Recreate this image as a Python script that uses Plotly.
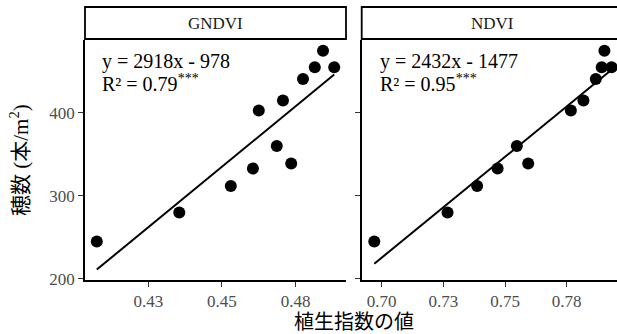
import plotly.graph_objects as go

# ---- data ----
panels = ["GNDVI", "NDVI"]
y_counts = [245, 280, 312, 333, 360, 339, 403, 415, 441, 455, 475, 455]
x_gndvi = [0.4075, 0.4355, 0.4530, 0.4605, 0.4686, 0.4735, 0.4625, 0.4707, 0.4775, 0.4815, 0.4843, 0.4881]
x_ndvi = [0.6970, 0.7267, 0.7387, 0.7470, 0.7548, 0.7594, 0.7767, 0.7818, 0.7868, 0.7892, 0.7903, 0.7932]
slopes = [2918, 2432]
intercepts = [-978, -1477]
eq_labels = ["y = 2918x - 978", "y = 2432x - 1477"]
r2_labels = ["R² = 0.79<sup>***</sup>", "R² = 0.95<sup>***</sup>"]
xtick_vals_g = [0.425, 0.45, 0.475]
xtick_text_g = ["0.43", "0.45", "0.48"]
xtick_vals_n = [0.70, 0.725, 0.75, 0.775]
xtick_text_n = ["0.70", "0.73", "0.75", "0.78"]
ytick_vals = [200, 300, 400]
x_title = "植生指数の値"
y_title = "穂数 (本/m<sup>2</sup>)"

W, H = 617, 334
L, R, T, B = 85, 0, 40, 54
PW = W - L - R
PH = H - T - B

def px(xp):
    return (xp - L) / PW

def py(yp):
    return (H - B - yp) / PH

SERIF = "Liberation Serif, 'Noto Sans CJK JP', serif"

fig = go.Figure()
xs_all = [x_gndvi, x_ndvi]
for i, xs in enumerate(xs_all):
    xa = "x" if i == 0 else "x2"
    ya = "y" if i == 0 else "y2"
    fig.add_trace(go.Scatter(x=xs, y=y_counts, mode="markers", xaxis=xa, yaxis=ya,
                             marker=dict(color="black", size=12), showlegend=False, hoverinfo="skip"))
    x0, x1 = min(xs), max(xs)
    fig.add_trace(go.Scatter(x=[x0, x1], y=[slopes[i] * x0 + intercepts[i], slopes[i] * x1 + intercepts[i]],
                             mode="lines", xaxis=xa, yaxis=ya,
                             line=dict(color="black", width=2), showlegend=False, hoverinfo="skip"))

axis_common = dict(showgrid=False, zeroline=False, showline=True, linecolor="black", linewidth=1.5,
                   ticks="outside", ticklen=5, tickwidth=1.2, tickcolor="#333333",
                   tickfont=dict(family=SERIF, size=17, color="#4D4D4D"))

left_dom = [0, px(346)]
right_dom = [px(361.7), 1]

fig.update_layout(
    width=W, height=H,
    margin=dict(l=L, r=R, t=T, b=B),
    plot_bgcolor="white", paper_bgcolor="white",
    xaxis=dict(domain=left_dom, range=[0.4035, 0.4921], tickvals=xtick_vals_g, ticktext=xtick_text_g,
               anchor="y", **axis_common),
    xaxis2=dict(domain=right_dom, range=[0.6919, 0.7954], tickvals=xtick_vals_n, ticktext=xtick_text_n,
                anchor="y2", **axis_common),
    yaxis=dict(domain=[0, 1], range=[198.5, 488], tickvals=ytick_vals, anchor="x", **axis_common),
    yaxis2=dict(domain=[0, 1], range=[198.5, 488], tickvals=ytick_vals, anchor="x2", matches="y",
                showticklabels=False, **axis_common),
)

shapes = []
strip_x = [(0, px(346)), (px(361.7), px(623.6))]
for (a, b) in strip_x:
    shapes.append(dict(type="rect", xref="paper", yref="paper", x0=a, x1=b, y0=py(39), y1=py(7),
                       line=dict(color="black", width=1.8), fillcolor="white", layer="above"))
fig.update_layout(shapes=shapes)

ann = []
for i, (a, b) in enumerate(strip_x):
    ann.append(dict(xref="paper", yref="paper", x=(a + b) / 2, y=py(23), text=panels[i], showarrow=False,
                    xanchor="center", yanchor="middle", font=dict(family=SERIF, size=17, color="#1A1A1A")))
eq_x = [px(99.5), px(378)]
for i in range(2):
    ann.append(dict(xref="paper", yref="paper", x=eq_x[i], y=py(61), text=eq_labels[i], showarrow=False,
                    xanchor="left", yanchor="middle", font=dict(family=SERIF, size=20, color="black")))
    ann.append(dict(xref="paper", yref="paper", x=eq_x[i], y=py(83), text=r2_labels[i], showarrow=False,
                    xanchor="left", yanchor="middle", font=dict(family=SERIF, size=20, color="black")))
ann.append(dict(xref="paper", yref="paper", x=px(353.5), y=py(322), text=x_title, showarrow=False,
                xanchor="center", yanchor="middle", font=dict(family=SERIF, size=20, color="black")))
ann.append(dict(xref="paper", yref="paper", x=px(19), y=py(160), text=y_title, showarrow=False, textangle=-90,
                xanchor="center", yanchor="middle", font=dict(family=SERIF, size=21, color="black")))
fig.update_layout(annotations=ann)

fig.write_html("out.html", config={"displayModeBar": False},
               post_script="document.body.style.margin='0px';document.body.style.padding='0px';")
